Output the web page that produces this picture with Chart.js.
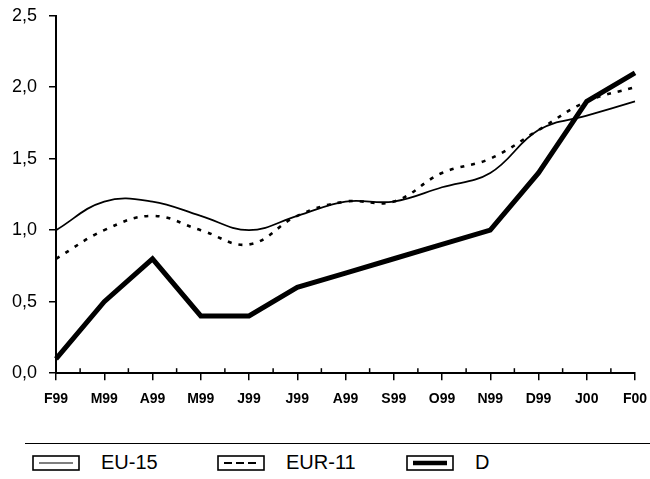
<!DOCTYPE html>
<html>
<head>
<meta charset="utf-8">
<script src="https://cdn.jsdelivr.net/npm/chart.js@4.4.1/dist/chart.umd.min.js"></script>
<style>
  html, body { margin: 0; padding: 0; background: #fff; }
  #page { position: relative; width: 650px; height: 479px; overflow: hidden; }
  #box { position: absolute; left: 0; top: 0; width: 650px; height: 418px; }
  #legend {
    position: absolute; left: 25px; top: 443px; width: 625px;
    border-top: 1px solid #000;
    font: 20px "Liberation Sans", Arial, sans-serif; color: #000;
  }
  #legend .item { position: absolute; top: 7px; display: flex; align-items: center; white-space: nowrap; }
  #legend canvas { display: block; margin-right: 21px; }
</style>
</head>
<body>
<div id="page">
  <div id="box"><canvas id="chart"></canvas></div>
  <div id="legend"></div>
</div>
<script>
// monthly values, Feb 1999 - Feb 2000
var months  = ["F99", "M99", "A99", "M99", "J99", "J99", "A99", "S99", "O99", "N99", "D99", "J00", "F00"];
var eu15    = [1.0, 1.2, 1.2, 1.1, 1.0, 1.1, 1.2, 1.2, 1.3, 1.4, 1.7, 1.8, 1.9];
var eur11   = [0.8, 1.0, 1.1, 1.0, 0.9, 1.1, 1.2, 1.2, 1.4, 1.5, 1.7, 1.9, 2.0];
var germany = [0.1, 0.5, 0.8, 0.4, 0.4, 0.6, 0.7, 0.8, 0.9, 1.0, 1.4, 1.9, 2.1];
var yTicks  = [0, 0.5, 1.0, 1.5, 2.0, 2.5];

Chart.defaults.font.family = '"Liberation Sans", Arial, sans-serif';
Chart.defaults.color = '#000';

// small upward ticks half way between the month ticks
var halfTicks = {
  id: 'halfTicks',
  afterDraw: function(chart) {
    var x = chart.scales.x, y = chart.scales.y, ctx = chart.ctx;
    ctx.save();
    ctx.strokeStyle = '#000';
    ctx.lineWidth = 1.5;
    for (var i = 0; i < months.length - 1; i++) {
      var px = x.getPixelForValue(i + 0.5);
      ctx.beginPath();
      ctx.moveTo(px, y.bottom);
      ctx.lineTo(px, y.bottom - 5);
      ctx.stroke();
    }
    ctx.restore();
  }
};

var chart = new Chart(document.getElementById('chart'), {
  type: 'line',
  data: {
    labels: months,
    datasets: [
      { label: 'EU-15', data: eu15, borderColor: '#000', borderWidth: 1.8, tension: 0.4,
        pointRadius: 0, legendWidth: 1.2, legendDash: [] },
      { label: 'EUR-11', data: eur11, borderColor: '#000', borderWidth: 2.6, borderDash: [4, 7], tension: 0.4,
        pointRadius: 0, legendWidth: 2, legendDash: [8, 4] },
      { label: 'D', data: germany, borderColor: '#000', borderWidth: 5, tension: 0,
        pointRadius: 0, legendWidth: 4.5, legendDash: [] }
    ]
  },
  options: {
    responsive: true,
    maintainAspectRatio: false,
    animation: false,
    layout: { padding: { top: 0, right: 15, left: 0, bottom: 0 } },
    plugins: { legend: { display: false }, tooltip: { enabled: false } },
    scales: {
      x: {
        offset: false,
        grid: { drawOnChartArea: false, drawTicks: true, tickLength: 7, color: '#000', lineWidth: 1.5 },
        border: { color: '#000', width: 2 },
        // tall line height pushes the month labels down without widening the side padding
        ticks: { autoSkip: false, maxRotation: 0, padding: 0, font: { size: 14, weight: 'bold', lineHeight: 2.7 } }
      },
      y: {
        min: 0,
        max: 2.5,
        afterBuildTicks: function(s) { s.ticks = yTicks.map(function(v) { return { value: v }; }); },
        afterFit: function(s) { s.width = 56; },
        grid: { drawOnChartArea: false, drawTicks: true, tickLength: 7, color: '#000', lineWidth: 1.5 },
        border: { color: '#000', width: 2 },
        ticks: {
          padding: 12,
          font: { size: 18, lineHeight: 0.4 },
          callback: function(v) { return Number(v).toFixed(1).replace('.', ','); }
        }
      }
    }
  },
  plugins: [halfTicks]
});

// legend: framed line sample for each series
var legend = document.getElementById('legend');
var itemLeft = [7, 192, 381];
chart.data.datasets.forEach(function(ds, i) {
  var item = document.createElement('div');
  item.className = 'item';
  item.style.left = itemLeft[i] + 'px';
  var c = document.createElement('canvas');
  c.width = 48; c.height = 16;
  var g = c.getContext('2d');
  g.strokeStyle = '#000';
  g.lineWidth = 1.6;
  g.strokeRect(1, 1, 46, 14);
  g.lineWidth = ds.legendWidth;
  g.setLineDash(ds.legendDash);
  g.beginPath();
  g.moveTo(7, 8);
  g.lineTo(41, 8);
  g.stroke();
  var txt = document.createElement('span');
  txt.textContent = ds.label;
  item.appendChild(c);
  item.appendChild(txt);
  legend.appendChild(item);
});
</script>
</body>
</html>
